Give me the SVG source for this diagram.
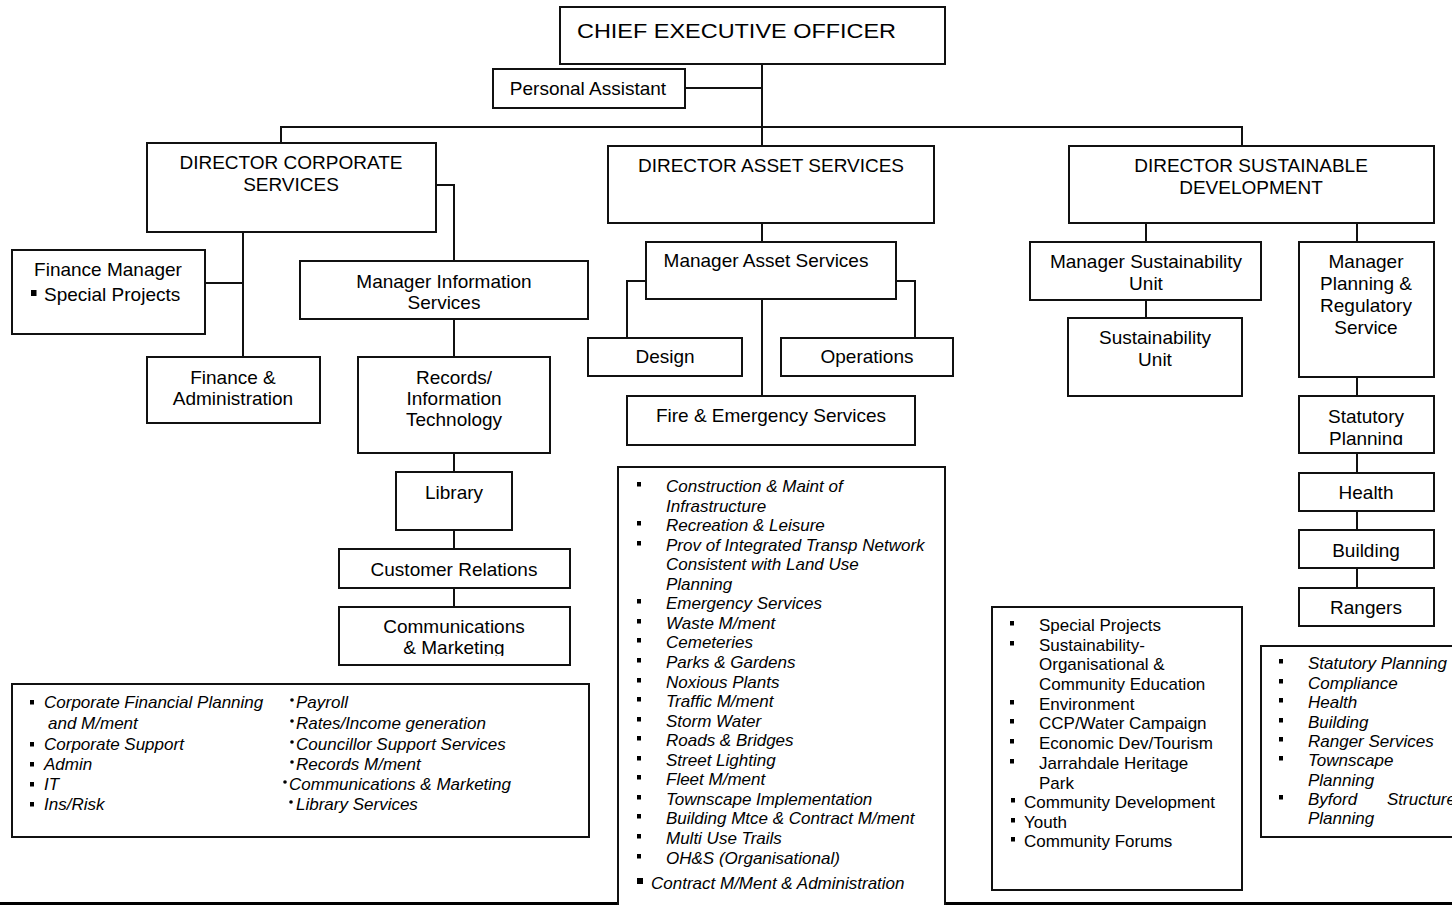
<svg xmlns="http://www.w3.org/2000/svg" width="1452" height="905" viewBox="0 0 1452 905">
<style>
text{font-family:"Liberation Sans",Arial,Helvetica,sans-serif;fill:#000}
.b{fill:#fff;stroke:#111;stroke-width:2}
.t{font-size:19px;text-anchor:middle}
.l{font-size:17px}
.i{font-style:italic}
.c{fill:none;stroke:#111;stroke-width:2}
</style>
<defs>
<rect id="sq" width="4" height="4.5" fill="#000"/>
<clipPath id="clipCM"><rect x="330" y="600" width="250" height="56"/></clipPath>
<clipPath id="clipSP"><rect x="1290" y="390" width="150" height="55"/></clipPath>
</defs>
<rect width="1452" height="905" fill="#fff"/>

<g id="connectors">
<path class="c" d="M762,64V146"/>
<path class="c" d="M685,88H762"/>
<path class="c" d="M281,143V127H1242V146"/>
<path class="c" d="M436,185H454V261"/>
<path class="c" d="M243,232V357M205,283H243"/>
<path class="c" d="M454,319V357M454,453V472M454,530V549M454,588V607"/>
<path class="c" d="M762,223V242"/>
<path class="c" d="M646,281H627V338M896,281H915V338M762,299V396"/>
<path class="c" d="M1146,223V242M1146,300V318M1357,223V242"/>
<path class="c" d="M1357,377V396M1357,453V473M1357,511V530M1357,568V588"/>
<path d="M0,903.5H618M945,903.5H1452" fill="none" stroke="#000" stroke-width="3"/>
</g>

<g id="ceo">
<rect class="b" x="560" y="7" width="385" height="57"/>
<text x="577" y="38" font-size="21" textLength="319" lengthAdjust="spacingAndGlyphs">CHIEF EXECUTIVE OFFICER</text>
</g>
<g id="personal-assistant">
<rect class="b" x="493" y="69" width="192" height="39"/>
<text class="t" x="588" y="95">Personal Assistant</text>
</g>

<g id="director-corporate">
<rect class="b" x="147" y="143" width="289" height="89"/>
<text class="t" x="291" y="169">DIRECTOR CORPORATE</text>
<text class="t" x="291" y="191">SERVICES</text>
</g>
<g id="director-asset">
<rect class="b" x="608" y="146" width="326" height="77"/>
<text class="t" x="771" y="172">DIRECTOR ASSET SERVICES</text>
</g>
<g id="director-sustainable">
<rect class="b" x="1069" y="146" width="365" height="77"/>
<text class="t" x="1251" y="172">DIRECTOR SUSTAINABLE</text>
<text class="t" x="1251" y="194">DEVELOPMENT</text>
</g>

<g id="finance-manager">
<rect class="b" x="12" y="250" width="193" height="84"/>
<text class="t" x="108" y="276">Finance Manager</text>
<rect x="31" y="290" width="5.5" height="6" fill="#000"/>
<text x="44" y="301" font-size="19">Special Projects</text>
</g>
<g id="finance-admin">
<rect class="b" x="147" y="357" width="173" height="66"/>
<text class="t" x="233" y="384">Finance &amp;</text>
<text class="t" x="233" y="405">Administration</text>
</g>
<g id="manager-information">
<rect class="b" x="300" y="261" width="288" height="58"/>
<text class="t" x="444" y="288">Manager Information</text>
<text class="t" x="444" y="309">Services</text>
</g>
<g id="records-it">
<rect class="b" x="358" y="357" width="192" height="96"/>
<text class="t" x="454" y="384">Records/</text>
<text class="t" x="454" y="405">Information</text>
<text class="t" x="454" y="426">Technology</text>
</g>
<g id="library">
<rect class="b" x="396" y="472" width="116" height="58"/>
<text class="t" x="454" y="499">Library</text>
</g>
<g id="customer-relations">
<rect class="b" x="339" y="549" width="231" height="39"/>
<text class="t" x="454" y="576">Customer Relations</text>
</g>
<g id="communications-marketing">
<rect class="b" x="339" y="607" width="231" height="58"/>
<g clip-path="url(#clipCM)">
<text class="t" x="454" y="633">Communications</text>
<text class="t" x="454" y="654">&amp; Marketing</text>
</g>
</g>

<g id="corporate-list">
<rect class="b" x="12" y="684" width="577" height="153"/>
<g class="l i">
<text class="l i" x="44" y="708">Corporate Financial Planning</text>
<text class="l i" x="48" y="729">and M/ment</text>
<text class="l i" x="44" y="750">Corporate Support</text>
<text class="l i" x="44" y="770">Admin</text>
<text class="l i" x="44" y="790">IT</text>
<text class="l i" x="44" y="810">Ins/Risk</text>
<text class="l i" x="296" y="708">Payroll</text>
<text class="l i" x="296" y="729">Rates/Income generation</text>
<text class="l i" x="296" y="750">Councillor Support Services</text>
<text class="l i" x="296" y="770">Records M/ment</text>
<text class="l i" x="289" y="790">Communications &amp; Marketing</text>
<text class="l i" x="296" y="810">Library Services</text>
</g>
<use href="#sq" x="30" y="700"/>
<use href="#sq" x="30" y="742"/>
<use href="#sq" x="30" y="762"/>
<use href="#sq" x="30" y="782"/>
<use href="#sq" x="30" y="802"/>
<circle cx="292" cy="700" r="1.8"/>
<circle cx="292" cy="721" r="1.8"/>
<circle cx="292" cy="742" r="1.8"/>
<circle cx="292" cy="762" r="1.8"/>
<circle cx="285" cy="782" r="1.8"/>
<circle cx="291" cy="802" r="1.8"/>
</g>

<g id="manager-asset">
<rect class="b" x="646" y="242" width="250" height="57"/>
<text class="t" x="766" y="267">Manager Asset Services</text>
</g>
<g id="design">
<rect class="b" x="588" y="338" width="154" height="38"/>
<text class="t" x="665" y="363">Design</text>
</g>
<g id="operations">
<rect class="b" x="781" y="338" width="172" height="38"/>
<text class="t" x="867" y="363">Operations</text>
</g>
<g id="fire-emergency">
<rect class="b" x="627" y="396" width="288" height="49"/>
<text class="t" x="771" y="422">Fire &amp; Emergency Services</text>
</g>

<g id="asset-list">
<rect class="b" x="618" y="467" width="327" height="450"/>
<text class="l i" x="666" y="492">Construction &amp; Maint of</text>
<text class="l i" x="666" y="512">Infrastructure</text>
<text class="l i" x="666" y="531">Recreation &amp; Leisure</text>
<text class="l i" x="666" y="551">Prov of Integrated Transp Network</text>
<text class="l i" x="666" y="570">Consistent with Land Use</text>
<text class="l i" x="666" y="590">Planning</text>
<text class="l i" x="666" y="609">Emergency Services</text>
<text class="l i" x="666" y="629">Waste M/ment</text>
<text class="l i" x="666" y="648">Cemeteries</text>
<text class="l i" x="666" y="668">Parks &amp; Gardens</text>
<text class="l i" x="666" y="688">Noxious Plants</text>
<text class="l i" x="666" y="707">Traffic M/ment</text>
<text class="l i" x="666" y="727">Storm Water</text>
<text class="l i" x="666" y="746">Roads &amp; Bridges</text>
<text class="l i" x="666" y="766">Street Lighting</text>
<text class="l i" x="666" y="785">Fleet M/ment</text>
<text class="l i" x="666" y="805">Townscape Implementation</text>
<text class="l i" x="666" y="824">Building Mtce &amp; Contract M/ment</text>
<text class="l i" x="666" y="844">Multi Use Trails</text>
<text class="l i" x="666" y="864">OH&amp;S (Organisational)</text>
<text class="l i" x="651" y="889">Contract M/Ment &amp; Administration</text>
<use href="#sq" x="637" y="482"/>
<use href="#sq" x="637" y="521"/>
<use href="#sq" x="637" y="541"/>
<use href="#sq" x="637" y="599"/>
<use href="#sq" x="637" y="619"/>
<use href="#sq" x="637" y="638"/>
<use href="#sq" x="637" y="658"/>
<use href="#sq" x="637" y="678"/>
<use href="#sq" x="637" y="697"/>
<use href="#sq" x="637" y="717"/>
<use href="#sq" x="637" y="736"/>
<use href="#sq" x="637" y="756"/>
<use href="#sq" x="637" y="775"/>
<use href="#sq" x="637" y="795"/>
<use href="#sq" x="637" y="814"/>
<use href="#sq" x="637" y="834"/>
<use href="#sq" x="637" y="854"/>
<rect x="637" y="878" width="6" height="6" fill="#000"/>
</g>

<g id="manager-sustainability">
<rect class="b" x="1030" y="242" width="231" height="58"/>
<text class="t" x="1146" y="268">Manager Sustainability</text>
<text class="t" x="1146" y="290">Unit</text>
</g>
<g id="sustainability-unit">
<rect class="b" x="1068" y="318" width="174" height="78"/>
<text class="t" x="1155" y="344">Sustainability</text>
<text class="t" x="1155" y="366">Unit</text>
</g>
<g id="manager-planning">
<rect class="b" x="1299" y="242" width="135" height="135"/>
<text class="t" x="1366" y="268">Manager</text>
<text class="t" x="1366" y="290">Planning &amp;</text>
<text class="t" x="1366" y="312">Regulatory</text>
<text class="t" x="1366" y="334">Service</text>
</g>
<g id="statutory-planning">
<rect class="b" x="1299" y="396" width="135" height="57"/>
<g clip-path="url(#clipSP)">
<text class="t" x="1366" y="423">Statutory</text>
<text class="t" x="1366" y="445">Planning</text>
</g>
</g>
<g id="health">
<rect class="b" x="1299" y="473" width="135" height="38"/>
<text class="t" x="1366" y="499">Health</text>
</g>
<g id="building">
<rect class="b" x="1299" y="530" width="135" height="38"/>
<text class="t" x="1366" y="557">Building</text>
</g>
<g id="rangers">
<rect class="b" x="1299" y="588" width="135" height="38"/>
<text class="t" x="1366" y="614">Rangers</text>
</g>

<g id="sustainability-list">
<rect class="b" x="992" y="607" width="250" height="283"/>
<text class="l" x="1039" y="631">Special Projects</text>
<text class="l" x="1039" y="651">Sustainability-</text>
<text class="l" x="1039" y="670">Organisational &amp;</text>
<text class="l" x="1039" y="690">Community Education</text>
<text class="l" x="1039" y="710">Environment</text>
<text class="l" x="1039" y="729">CCP/Water Campaign</text>
<text class="l" x="1039" y="749">Economic Dev/Tourism</text>
<text class="l" x="1039" y="769">Jarrahdale Heritage</text>
<text class="l" x="1039" y="789">Park</text>
<text class="l" x="1024" y="808">Community Development</text>
<text class="l" x="1024" y="828">Youth</text>
<text class="l" x="1024" y="847">Community Forums</text>
<use href="#sq" x="1010" y="621"/>
<use href="#sq" x="1010" y="641"/>
<use href="#sq" x="1010" y="700"/>
<use href="#sq" x="1010" y="719"/>
<use href="#sq" x="1010" y="739"/>
<use href="#sq" x="1010" y="759"/>
<use href="#sq" x="1011" y="798"/>
<use href="#sq" x="1011" y="818"/>
<use href="#sq" x="1011" y="837"/>
</g>

<g id="planning-list">
<rect class="b" x="1261" y="646" width="200" height="191"/>
<text class="l i" x="1308" y="669">Statutory Planning</text>
<text class="l i" x="1308" y="689">Compliance</text>
<text class="l i" x="1308" y="708">Health</text>
<text class="l i" x="1308" y="728">Building</text>
<text class="l i" x="1308" y="747">Ranger Services</text>
<text class="l i" x="1308" y="766">Townscape</text>
<text class="l i" x="1308" y="786">Planning</text>
<text class="l i" x="1308" y="805">Byford</text>
<text class="l i" x="1387" y="805">Structure</text>
<text class="l i" x="1308" y="824">Planning</text>
<use href="#sq" x="1279" y="659"/>
<use href="#sq" x="1279" y="679"/>
<use href="#sq" x="1279" y="698"/>
<use href="#sq" x="1279" y="718"/>
<use href="#sq" x="1279" y="737"/>
<use href="#sq" x="1279" y="756"/>
<use href="#sq" x="1279" y="795"/>
</g>
</svg>
